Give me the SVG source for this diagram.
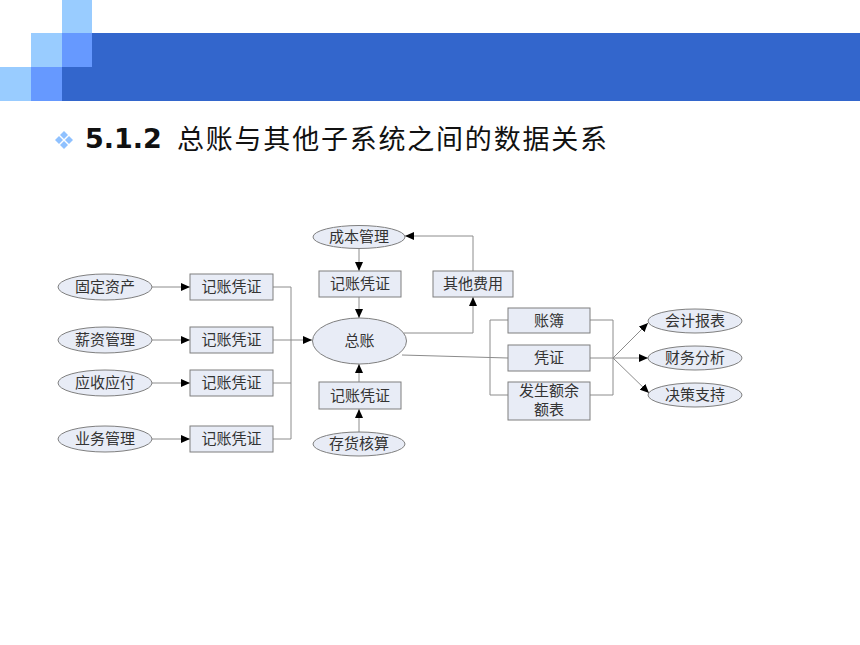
<svg xmlns="http://www.w3.org/2000/svg" width="860" height="645" viewBox="0 0 860 645">
<style>
.lt{fill:#99CCFF}.md{fill:#6699FF}.dk{fill:#3366CC}
.nd{fill:#E8ECF6;stroke:#7F7F7F;stroke-width:1}
.lb{font-family:"Liberation Serif","Noto Sans CJK SC",serif;font-size:15px;fill:#333333;text-anchor:middle;dominant-baseline:central}
.cn{fill:none;stroke:#8C8C8C;stroke-width:1}
.ar{marker-end:url(#ah)}
.bul{fill:#8FC1FF}
</style>
<defs>
<marker id="ah" markerUnits="userSpaceOnUse" markerWidth="10" markerHeight="8" refX="9" refY="4" orient="auto">
<path d="M0,0 L9,4 L0,8 Z" fill="#000"/>
</marker>
</defs>
<rect width="860" height="645" fill="#fff"/>
<g id="header">
<rect class="lt" x="62" y="0" width="30" height="33"/>
<rect class="lt" x="31" y="33" width="31" height="34"/>
<rect class="lt" x="0" y="67" width="31" height="34"/>
<rect class="md" x="62" y="33" width="30" height="34"/>
<rect class="md" x="31" y="67" width="31" height="34"/>
<rect class="dk" x="92" y="33" width="768" height="34"/>
<rect class="dk" x="62" y="67" width="798" height="34"/>
</g>
<g id="title">
<path class="bul" d="M64,131 L68,135 L64,139 L60,135 Z M64,141 L68,145 L64,149 L60,145 Z M59,136 L63,140 L59,144 L55,140 Z M69,136 L73,140 L69,144 L65,140 Z"/>
<text x="85" y="148" font-family="'DejaVu Sans',Verdana,sans-serif" font-weight="bold" font-size="27" fill="#111">5.1.2</text>
<text x="177" y="149" font-family="'Noto Sans CJK SC',sans-serif" font-size="27" fill="#111" textLength="430" lengthAdjust="spacing">总账与其他子系统之间的数据关系</text>
</g>
<g id="connectors">
<path class="cn ar" d="M152,287 H190"/>
<path class="cn ar" d="M152,340 H190"/>
<path class="cn ar" d="M152,383 H190"/>
<path class="cn ar" d="M152,439 H190"/>
<path class="cn" d="M273,287 H291 V439 H273 M273,383 H291"/>
<path class="cn ar" d="M273,340 H312"/>
<path class="cn ar" d="M359,248 V271"/>
<path class="cn ar" d="M359,297 V318"/>
<path class="cn ar" d="M359,432 V409"/>
<path class="cn ar" d="M359,382 V364"/>
<path class="cn ar" d="M404,333 H473 V297"/>
<path class="cn ar" d="M473,271 V236 H405"/>
<path class="cn" d="M402,355 L508,358"/>
<path class="cn" d="M508,320 H490 V395 H508"/>
<path class="cn" d="M590,320 H613 V395 H590 M590,358 H613"/>
<path class="cn ar" d="M613,358 L648,323"/>
<path class="cn ar" d="M613,358 L648,358"/>
<path class="cn ar" d="M613,358 L649,393"/>
</g>
<g id="n-gdzc"><ellipse class="nd" cx="105" cy="287" rx="47" ry="13"/><text class="lb" x="105" y="287">固定资产</text></g>
<g id="n-xzgl"><ellipse class="nd" cx="105" cy="340" rx="47" ry="13"/><text class="lb" x="105" y="340">薪资管理</text></g>
<g id="n-ysyf"><ellipse class="nd" cx="105" cy="383" rx="47" ry="13"/><text class="lb" x="105" y="383">应收应付</text></g>
<g id="n-ywgl"><ellipse class="nd" cx="105" cy="439" rx="47" ry="13"/><text class="lb" x="105" y="439">业务管理</text></g>
<g id="n-pz1"><rect class="nd" x="190" y="274" width="83" height="26"/><text class="lb" x="231.5" y="287">记账凭证</text></g>
<g id="n-pz2"><rect class="nd" x="190" y="327" width="83" height="26"/><text class="lb" x="231.5" y="340">记账凭证</text></g>
<g id="n-pz3"><rect class="nd" x="190" y="370" width="83" height="26"/><text class="lb" x="231.5" y="383">记账凭证</text></g>
<g id="n-pz4"><rect class="nd" x="190" y="426" width="83" height="26"/><text class="lb" x="231.5" y="439">记账凭证</text></g>
<g id="n-cbgl"><ellipse class="nd" cx="359" cy="237" rx="46" ry="11.5"/><text class="lb" x="359" y="237">成本管理</text></g>
<g id="n-pz5"><rect class="nd" x="319" y="271" width="82" height="26"/><text class="lb" x="360" y="284">记账凭证</text></g>
<g id="n-zz"><ellipse class="nd" cx="359.5" cy="341" rx="47" ry="23"/><text class="lb" x="359.5" y="341">总账</text></g>
<g id="n-pz6"><rect class="nd" x="319" y="382" width="82" height="27"/><text class="lb" x="360" y="395.5">记账凭证</text></g>
<g id="n-chhs"><ellipse class="nd" cx="359" cy="444" rx="46" ry="12"/><text class="lb" x="359" y="444">存货核算</text></g>
<g id="n-qtfy"><rect class="nd" x="433" y="271" width="80" height="26"/><text class="lb" x="473" y="284">其他费用</text></g>
<g id="n-zb"><rect class="nd" x="508" y="308" width="82" height="25"/><text class="lb" x="549" y="320.5">账簿</text></g>
<g id="n-pz"><rect class="nd" x="508" y="345" width="82" height="26"/><text class="lb" x="549" y="358">凭证</text></g>
<g id="n-fse"><rect class="nd" x="508" y="382" width="82" height="38"/><text class="lb" x="549" y="391">发生额余</text><text class="lb" x="549" y="410">额表</text></g>
<g id="n-kjbb"><ellipse class="nd" cx="695" cy="321" rx="47" ry="12"/><text class="lb" x="695" y="321">会计报表</text></g>
<g id="n-cwfx"><ellipse class="nd" cx="695" cy="358" rx="47" ry="12"/><text class="lb" x="695" y="358">财务分析</text></g>
<g id="n-jczc"><ellipse class="nd" cx="695" cy="395" rx="47" ry="12"/><text class="lb" x="695" y="395">决策支持</text></g>
</svg>
